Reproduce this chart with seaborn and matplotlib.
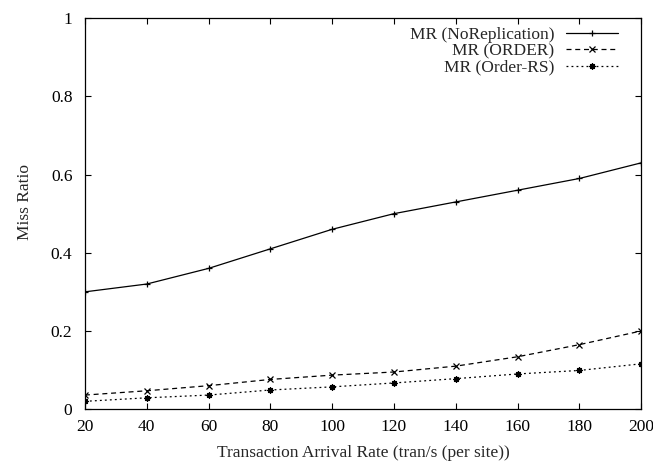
import matplotlib
matplotlib.use("Agg")
import matplotlib.pyplot as plt
import seaborn as sns
import pandas as pd

rates = [20, 40, 60, 80, 100, 120, 140, 160, 180, 200]
mr_norep = [0.30, 0.32, 0.36, 0.41, 0.46, 0.50, 0.53, 0.56, 0.59, 0.63]
mr_order = [0.036, 0.047, 0.060, 0.076, 0.087, 0.095, 0.110, 0.134, 0.165, 0.200]
mr_order_rs = [0.020, 0.029, 0.036, 0.049, 0.057, 0.067, 0.078, 0.090, 0.099, 0.116]
series_names = ["MR (NoReplication)", "MR (ORDER)", "MR (Order-RS)"]
x_ticks = [20, 40, 60, 80, 100, 120, 140, 160, 180, 200]
y_ticks = [0, 0.2, 0.4, 0.6, 0.8, 1]
y_tick_labels = ["0", "0.2", "0.4", "0.6", "0.8", "1"]

FS = 12.5
sns.set_style("ticks")
plt.rcParams["font.family"] = ["Liberation Serif", "DejaVu Serif"]
plt.rcParams["font.size"] = FS

df = pd.concat([
    pd.DataFrame({"rate": rates, "mr": vals, "series": name})
    for name, vals in zip(series_names, [mr_norep, mr_order, mr_order_rs])
])

fig = plt.figure(figsize=(6.53, 4.66), dpi=100)
ax = fig.add_axes([0.130, 0.122, 0.852, 0.839])

styles = {
    series_names[0]: dict(ls="-", marker="+", ms=5),
    series_names[1]: dict(ls=(0, (4, 3)), marker="x", ms=4),
    series_names[2]: dict(ls=(0, (1.5, 2.5)), marker=(8, 2, 0), ms=4.5),
}
for name in series_names:
    sub = df[df["series"] == name]
    sns.lineplot(data=sub, x="rate", y="mr", ax=ax, color="black", lw=0.9,
                 linestyle=styles[name]["ls"], marker=styles[name]["marker"],
                 markersize=styles[name]["ms"], markeredgewidth=0.9,
                 markerfacecolor="black", markeredgecolor="black", label=name)

ax.set_xlim(20, 200)
ax.set_ylim(0, 1)
ax.set_xticks(x_ticks)
ax.set_yticks(y_ticks)
ax.set_yticklabels(y_tick_labels)
ax.tick_params(direction="in", top=True, right=True, length=4.5, width=0.8,
               labelsize=FS, colors="black")
ax.tick_params(axis="y", pad=9)
ax.tick_params(axis="x", pad=7)
for s in ax.spines.values():
    s.set_visible(True)
    s.set_linewidth(0.9)
    s.set_color("black")
ax.set_xlabel("Transaction Arrival Rate (tran/s (per site))", fontsize=FS, labelpad=7)
ax.set_ylabel("Miss Ratio", fontsize=FS)
ax.yaxis.set_label_coords(-0.093, 0.53)

leg = ax.legend(loc="upper right", bbox_to_anchor=(0.98, 1.008), frameon=False,
                markerfirst=False, handlelength=3.0, labelspacing=0.0,
                handletextpad=0.65, borderaxespad=0.3, fontsize=FS)

fig.savefig("out.png", dpi=100)
